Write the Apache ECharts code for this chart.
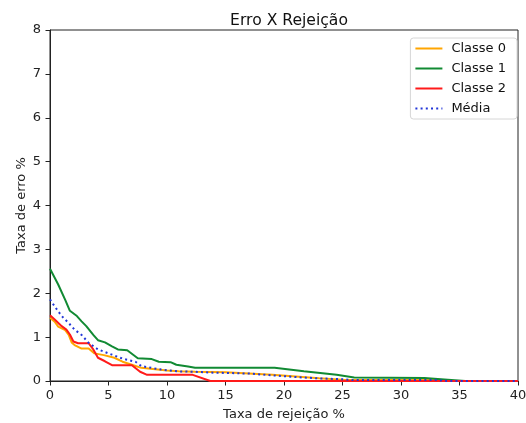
<!DOCTYPE html>
<html>
<head>
<meta charset="utf-8">
<script src="https://cdn.jsdelivr.net/npm/echarts@6/dist/echarts.min.js"></script>
<style>
  html, body { margin: 0; padding: 0; background: #fff; }
  #chart { width: 526px; height: 423px; }
</style>
</head>
<body>
<div id="chart"></div>
<script>
// Error rate (%) against rejection rate (%) for each class and the average.
const seriesNames = ['Classe 0', 'Classe 1', 'Classe 2', 'Média'];

const classe0 = [
  [0, 1.44], [0.4, 1.35], [0.7, 1.24], [1.3, 1.16], [1.6, 1.05], [1.85, 0.88],
  [2.1, 0.82], [2.7, 0.74], [3.3, 0.74], [3.8, 0.63], [4.6, 0.59], [5.5, 0.53],
  [6.2, 0.44], [7.0, 0.37], [7.8, 0.30], [9, 0.27], [10, 0.24], [11, 0.22],
  [12.4, 0.21], [15, 0.20], [17, 0.17], [19, 0.14], [21, 0.10], [23, 0.06],
  [25, 0.03], [26, 0.02], [33, 0.02], [34, 0], [40, 0]
];

const classe1 = [
  [0, 2.56], [0.7, 2.2], [1.3, 1.85], [1.7, 1.6], [2.3, 1.48], [2.7, 1.36],
  [3.1, 1.25], [3.7, 1.05], [4.1, 0.93], [4.7, 0.88], [5.3, 0.79], [5.8, 0.72],
  [6.6, 0.70], [7.5, 0.52], [8.7, 0.50], [9.3, 0.44], [10.3, 0.43], [10.8, 0.37],
  [11.8, 0.33], [12.4, 0.30], [19.2, 0.30], [21.7, 0.22], [24.5, 0.14],
  [26, 0.08], [32, 0.07], [34, 0.03], [35.5, 0], [40, 0]
];

const classe2 = [
  [0, 1.50], [0.4, 1.40], [1, 1.25], [1.4, 1.17], [1.7, 1.06], [2, 0.90],
  [2.4, 0.86], [3.3, 0.86], [3.7, 0.72], [4.1, 0.53], [4.7, 0.45], [5.3, 0.36],
  [7.0, 0.36], [7.7, 0.21], [8.3, 0.14], [12.2, 0.14], [13.7, 0], [40, 0]
];

const media = [
  [0, 1.86], [0.4, 1.70], [1, 1.48], [1.6, 1.32], [2.1, 1.17], [2.7, 1.05],
  [3.3, 0.87], [4.1, 0.72], [5.3, 0.60], [6.2, 0.51], [7.3, 0.44], [7.8, 0.34],
  [9.5, 0.26], [11, 0.22], [12.4, 0.21], [14, 0.19], [17, 0.17], [19, 0.13],
  [21, 0.09], [23, 0.06], [25, 0.04], [26, 0.02], [33, 0.02], [34, 0], [40, 0]
];

const xTicks = [0, 5, 10, 15, 20, 25, 30, 35, 40];
const yTicks = [0, 1, 2, 3, 4, 5, 6, 7, 8];

const FONT = 'DejaVu Sans';
const colors = ['#ffa500', '#118a33', '#ff1a1a', '#2236d8'];
const lineTypes = ['solid', 'solid', 'solid', [2, 3.2]];
const dataSets = [classe0, classe1, classe2, media];

const chart = echarts.init(document.getElementById('chart'), null, { renderer: 'canvas' });

const axisCommon = {
  type: 'value',
  nameMoveOverlap: false,
  axisLine: { show: true, lineStyle: { color: '#222', width: 1 } },
  axisTick: { show: true, inside: false, length: 4.5, lineStyle: { color: '#222', width: 1 } },
  splitLine: { show: false },
  axisLabel: { color: '#222', fontFamily: FONT, fontSize: 13 },
  nameTextStyle: { color: '#222', fontFamily: FONT, fontSize: 13 }
};

chart.setOption({
  animation: false,
  backgroundColor: '#fff',
  title: {
    text: 'Erro X Rejeição',
    left: 284,
    textAlign: 'center',
    top: 8,
    textStyle: { fontFamily: FONT, fontSize: 15.6, fontWeight: 'normal', color: '#111' }
  },
  grid: {
    left: 50, right: 8, top: 30, bottom: 42,
    outerBoundsMode: 'none',
    containLabel: false,
    show: true, borderColor: '#222', borderWidth: 1, backgroundColor: 'transparent'
  },
  legend: {
    orient: 'vertical',
    right: 9,
    top: 38,
    data: seriesNames,
    itemWidth: 27,
    itemHeight: 14,
    itemGap: 7,
    padding: [4, 11, 4, 4],
    borderColor: '#d6d6d6',
    borderWidth: 1,
    borderRadius: 3,
    backgroundColor: 'rgba(255,255,255,0.8)',
    itemStyle: { opacity: 0 },
    textStyle: { fontFamily: FONT, fontSize: 13, color: '#111', padding: [0, 0, 0, 4] }
  },
  xAxis: Object.assign({}, axisCommon, {
    min: xTicks[0], max: xTicks[xTicks.length - 1], interval: 5,
    name: 'Taxa de rejeição %', nameLocation: 'middle', nameGap: 27,
    axisLabel: Object.assign({}, axisCommon.axisLabel, { margin: 8 })
  }),
  yAxis: Object.assign({}, axisCommon, {
    min: yTicks[0], max: yTicks[yTicks.length - 1], interval: 1,
    name: 'Taxa de erro %', nameLocation: 'middle', nameGap: 22,
    axisLabel: Object.assign({}, axisCommon.axisLabel, { margin: 9 })
  }),
  series: seriesNames.map((name, i) => ({
    name: name,
    type: 'line',
    data: dataSets[i],
    symbol: 'none',
    showSymbol: false,
    z: 2 + i,
    color: colors[i],
    lineStyle: { color: colors[i], width: 2, type: lineTypes[i] },
    emphasis: { disabled: true }
  }))
});
</script>
</body>
</html>
